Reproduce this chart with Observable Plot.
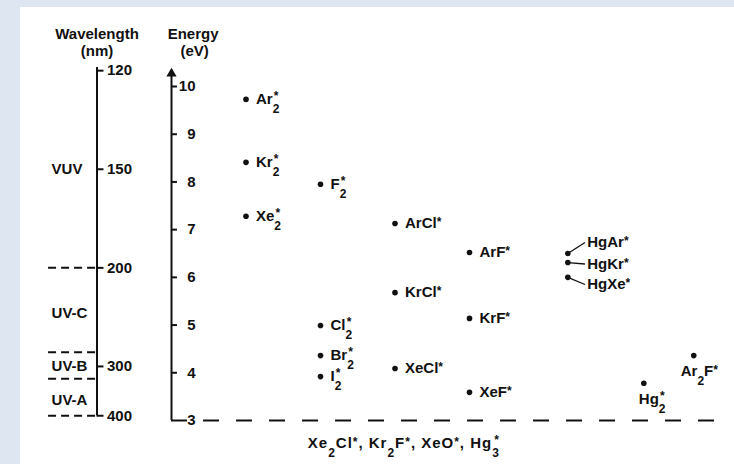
<!DOCTYPE html>
<html>
<head>
<meta charset="utf-8">
<script src="https://cdn.jsdelivr.net/npm/d3@7"></script>
<script src="https://cdn.jsdelivr.net/npm/@observablehq/plot@0.6"></script>
<style>
  html, body { margin: 0; padding: 0; }
  body { width: 734px; height: 464px; background: #dee6f1; position: relative; overflow: hidden; }
  #panel { position: absolute; left: 20px; top: 7px; right: 0; bottom: 0; background: #ffffff; }
  #chart { position: absolute; left: 0; top: 0; }
</style>
</head>
<body>
<div id="panel"></div>
<div id="chart"></div>
<script>
// ---- data ----
// "_x" = subscript, "^x" = superscript, "_2^*" = stacked
const species   = ["Ar_2^*","Kr_2^*","Xe_2^*","F_2^*","Cl_2^*","Br_2^*","I_2^*",
                   "ArCl^*","KrCl^*","XeCl^*","ArF^*","KrF^*","XeF^*",
                   "HgAr^*","HgKr^*","HgXe^*","Hg_2^*","Ar_2F^*"];
const energyEV  = [9.73, 8.41, 7.28, 7.95, 4.99, 4.36, 3.92,
                   7.13, 5.68, 4.09, 6.52, 5.14, 3.59,
                   6.50, 6.31, 6.00, 3.78, 4.36];
const column    = [1, 1, 1, 2, 2, 2, 2,
                   3, 3, 3, 4, 4, 4,
                   5.32, 5.32, 5.32, 6.34, 7.01];
const labelPlace = ["right","right","right","right","right","right","right",
                    "right","right","right","right","right","right",
                    "leader","leader","leader","below","below"];
const leaderLabelEV = {"HgAr^*": 6.73, "HgKr^*": 6.28, "HgXe^*": 5.85};

const energyTicks     = [3, 4, 5, 6, 7, 8, 9, 10];
const wavelengthTicks = [120, 150, 200, 300, 400];
const bandEdgesNm     = [200, 280, 320, 400];
const bandNames       = ["VUV", "UV-C", "UV-B", "UV-A"];
const bandLabelNm     = [150, 236, 300, 362];
const caption         = "Xe_2Cl^*, Kr_2F^*, XeO^*, Hg_3^*";

const nm2ev = nm => 1239.84 / nm;

const rows = species.map((name, i) => ({name, energy: energyEV[i], col: column[i], place: labelPlace[i]}));
const ink = "#111";
const bold = {fontWeight: "bold", fill: ink};

const plot = Plot.plot({
  width: 734,
  height: 464,
  margin: 0,
  x: {domain: [0, 4], range: [171, 469], axis: null},
  y: {domain: [3, 10], range: [420, 86], axis: null},
  style: {background: "transparent", fontFamily: "'Liberation Sans', Arial, sans-serif", fontSize: "15px", color: ink},
  marks: [
    // wavelength axis
    Plot.ruleY(bandEdgesNm, {y: nm2ev, x1: -1.65, x2: -1, strokeDasharray: "8,5", strokeWidth: 2, stroke: ink}),
    Plot.ruleX([-1], {y1: nm2ev(400), y2: 10.4, strokeWidth: 2, stroke: ink}),
    Plot.ruleY(wavelengthTicks, {y: nm2ev, x1: -1, x2: -1 + 7 / 74.5, strokeWidth: 2, stroke: ink}),
    Plot.text(wavelengthTicks, {x: -1, y: nm2ev, text: d => String(d), dx: 10, textAnchor: "start", ...bold}),
    Plot.text(bandNames, {x: -1.61, y: (d, i) => nm2ev(bandLabelNm[i]), text: d => d, textAnchor: "start", ...bold}),
    Plot.text(["Wavelength"], {x: -1, y: 11.09, text: d => d, ...bold}),
    Plot.text(["(nm)"], {x: -1, y: 10.74, text: d => d, ...bold}),

    // energy axis
    Plot.ruleX([0], {y1: 3, y2: 10.3, strokeWidth: 2, stroke: ink}),
    Plot.dot([0], {x: d => d, y: 10.27, symbol: "triangle", r: 3.8, fill: ink, stroke: null}),
    Plot.ruleY(energyTicks.filter(d => d > 3), {y: d => d, x1: 0, x2: 0.08, strokeWidth: 2, stroke: ink}),
    Plot.ruleY([3], {y: d => d, x1: 0, x2: 0.215, strokeWidth: 2, stroke: ink}),
    Plot.text(energyTicks, {x: 0, y: d => d, text: d => String(d), dx: 24, textAnchor: "end", ...bold}),
    Plot.ruleY([3], {y: d => d, x1: 0.43, x2: 7.29, strokeDasharray: "16,17", strokeWidth: 2, stroke: ink}),
    Plot.text(["Energy"], {x: 0.29, y: 11.09, text: d => d, ...bold}),
    Plot.text(["(eV)"], {x: 0.31, y: 10.74, text: d => d, ...bold}),

    // leaders for Hg-rare gas excimers
    Plot.link(rows.filter(d => d.place === "leader"), {
      x1: "col", y1: "energy", x2: 5.55, y2: d => leaderLabelEV[d.name], strokeWidth: 1.3, stroke: ink
    }),
    // points
    Plot.dot(rows, {x: "col", y: "energy", r: 2.8, fill: ink, stroke: null}),
    // labels
    Plot.text(rows.filter(d => d.place === "right"), {x: "col", y: "energy", text: "name", dx: 10, textAnchor: "start", ...bold}),
    Plot.text(rows.filter(d => d.place === "leader"), {x: 5.58, y: d => leaderLabelEV[d.name], text: "name", textAnchor: "start", ...bold}),
    Plot.text(rows.filter(d => d.name === "Hg_2^*"), {x: "col", y: "energy", text: "name", dx: -5, dy: 16, textAnchor: "start", ...bold}),
    Plot.text(rows.filter(d => d.name === "Ar_2F^*"), {x: "col", y: "energy", text: "name", dx: -13, dy: 16, textAnchor: "start", ...bold}),
    Plot.text([caption], {x: 1.83, y: 2.528, text: d => d, textAnchor: "start", ...bold})
  ]
});

// turn "_x" / "^x" markup into real sub/superscript tspans
function richify(svg) {
  const ns = "http://www.w3.org/2000/svg";
  const SUB_SIZE = 12, STAR_SIZE = 12;
  const SUB = 9, STAR = -2, STACK = -4;
  for (const t of svg.querySelectorAll("text")) {
    const s = t.textContent;
    if (!/[_^]/.test(s)) continue;
    const isCaption = s === caption;
    t.textContent = "";
    let shift = 0, buf = "";
    const span = (txt, dy, dx, size) => {
      const el = document.createElementNS(ns, "tspan");
      el.textContent = txt;
      if (dy) el.setAttribute("dy", dy);
      if (dx) el.setAttribute("dx", dx);
      if (size) el.setAttribute("font-size", size);
      t.appendChild(el);
    };
    const flush = () => { if (buf) { span(buf, -shift); shift = 0; buf = ""; } };
    for (let i = 0; i < s.length; i++) {
      const c = s[i];
      if (c === "_") {
        flush();
        const sub = s[++i];
        span(sub, SUB - shift, 0, SUB_SIZE); shift = SUB;
        if (s[i + 1] === "^") {
          const sup = s[i + 2]; i += 2;
          span(sup, STACK - shift, -5.5, STAR_SIZE); shift = STACK;
        }
      } else if (c === "^") {
        flush();
        const sup = s[++i];
        span(sup, STAR - shift, 0, STAR_SIZE); shift = STAR;
      } else buf += c;
    }
    flush();
    if (isCaption) {
      t.setAttribute("textLength", 192);
      t.setAttribute("lengthAdjust", "spacing");
    }
  }
}
richify(plot);
document.getElementById("chart").appendChild(plot);
</script>
</body>
</html>
